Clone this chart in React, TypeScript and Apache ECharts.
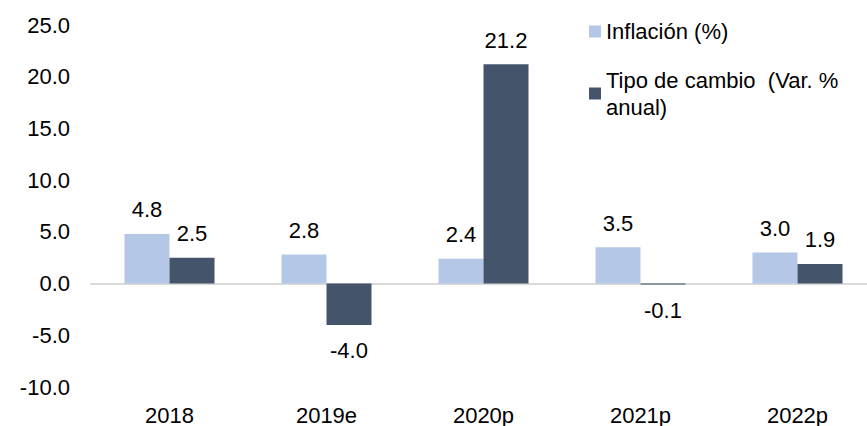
import React, { useEffect, useRef } from "react";
import * as echarts from "echarts";

const categories = ["2018", "2019e", "2020p", "2021p", "2022p"];
const inflacion = [4.8, 2.8, 2.4, 3.5, 3.0];
const tipoCambio = [2.5, -4.0, 21.2, -0.1, 1.9];
const seriesNames = ["Inflación (%)", "Tipo de cambio  (Var. % anual)"];

const FONT = "'Liberation Sans', Arial, sans-serif";
const FS = 22;

export default function App() {
  const ref = useRef<HTMLDivElement>(null);
  useEffect(() => {
    if (!ref.current) return;
    const chart = echarts.init(ref.current, undefined, { renderer: "svg" });
    const mkData = (arr: number[]) =>
      arr.map((v) => ({
        value: v,
        label: { position: v < 0 ? "bottom" : "top", distance: v < 0 ? 15 : 13 },
      }));
    chart.setOption({
      animation: false,
      textStyle: { fontFamily: FONT, color: "#000" },
      grid: { left: 91, top: 25, bottom: 38, right: 0 },
      legend: [
        {
          data: [{ name: seriesNames[0] }],
          left: 589,
          top: 18,
          padding: 0,
          itemWidth: 12,
          itemHeight: 12,
          icon: "rect",
          textStyle: { fontFamily: FONT, fontSize: FS, color: "#000", lineHeight: 27 },
        },
        {
          data: [{ name: seriesNames[1] }],
          left: 589,
          top: 53,
          padding: 0,
          itemWidth: 12,
          itemHeight: 12,
          icon: "rect",
          formatter: () => "Tipo de cambio  (Var. %\nanual)",
          textStyle: {
            fontFamily: FONT,
            fontSize: FS,
            color: "#000",
            lineHeight: 27,
            padding: [27, 0, 0, 0],
          },
        },
      ],
      xAxis: [
        {
          type: "category",
          data: categories,
          position: "bottom",
          axisLine: { show: false, onZero: false },
          axisTick: { show: false },
          axisLabel: { fontFamily: FONT, fontSize: FS, color: "#000", margin: 17 },
        },
        {
          type: "category",
          data: categories,
          position: "bottom",
          axisLine: { show: true, onZero: true, lineStyle: { color: "#D9D9D9", width: 2 } },
          axisTick: { show: false },
          axisLabel: { show: false },
        },
      ],
      yAxis: {
        type: "value",
        min: -10,
        max: 25,
        interval: 5,
        axisLine: { show: false },
        axisTick: { show: false },
        splitLine: { show: false },
        axisLabel: {
          fontFamily: FONT,
          fontSize: FS,
          color: "#000",
          margin: 21,
          formatter: (v: number) => v.toFixed(1),
        },
      },
      series: [
        {
          name: seriesNames[0],
          type: "bar",
          xAxisIndex: 0,
          barWidth: 45,
          barGap: "0%",
          itemStyle: { color: "#B4C7E7" },
          label: {
            show: true,
            fontFamily: FONT,
            fontSize: FS,
            color: "#000",
            formatter: (p: any) => Number(p.value).toFixed(1),
          },
          data: mkData(inflacion),
        },
        {
          name: seriesNames[1],
          type: "bar",
          xAxisIndex: 0,
          barWidth: 45,
          barGap: "0%",
          itemStyle: { color: "#44546A" },
          label: {
            show: true,
            fontFamily: FONT,
            fontSize: FS,
            color: "#000",
            formatter: (p: any) => Number(p.value).toFixed(1),
          },
          data: mkData(tipoCambio),
        },
      ],
    });
    return () => chart.dispose();
  }, []);
  return (
    <div
      ref={ref}
      style={{ position: "fixed", left: 0, top: 0, width: 876, height: 426, background: "#fff" }}
    />
  );
}
